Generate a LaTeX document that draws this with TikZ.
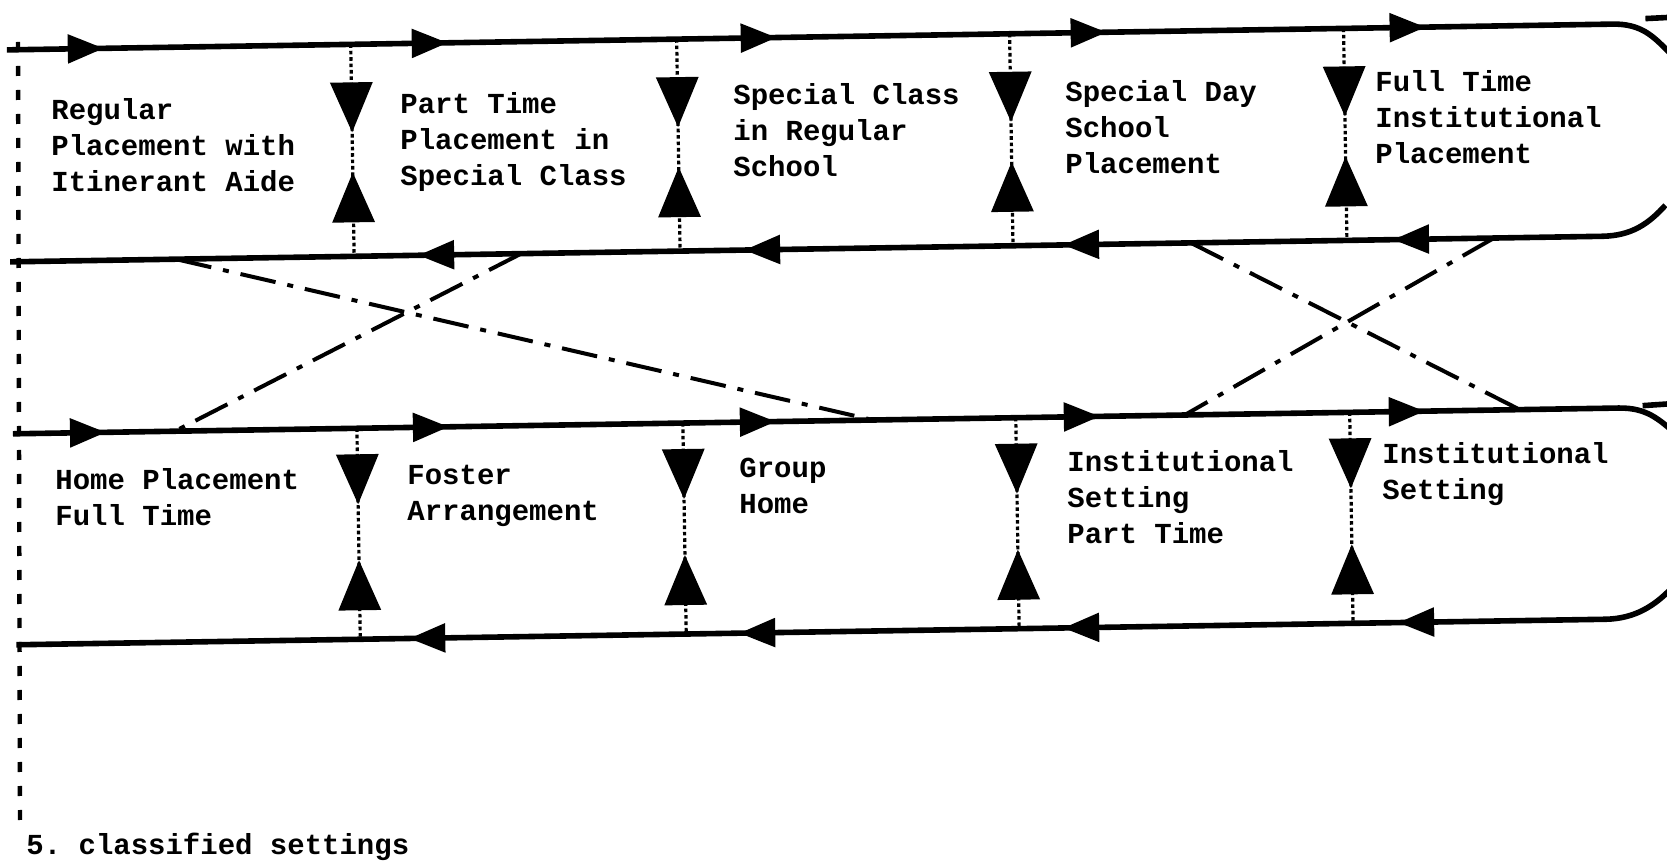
\documentclass[tikz,border=0pt]{standalone}
\usepackage{fontspec}
\setmonofont{Liberation Mono}
\usetikzlibrary{arrows.meta,decorations.markings}
\begin{document}
\begin{tikzpicture}[x=0.5pt,y=-0.5pt,
  htip/.tip={Triangle[length=18pt,width=14pt]},
  vtip/.tip={Triangle[length=25pt,width=21pt]},
  main/.style={line width=2.8pt},
  dd/.style={line width=2pt, dash pattern=on 18pt off 6pt on 3pt off 6pt},
  vline/.style={line width=1.6pt, dash pattern=on 1.8pt off 1.4pt},
  ldash/.style={line width=2.2pt, dash pattern=on 5pt off 7pt},
  fw/.style={postaction={decorate,decoration={markings,mark=at position #1 with {\arrow{htip}}}}},
  bw/.style={postaction={decorate,decoration={markings,mark=at position #1 with {\arrowreversed{htip}}}}},
  vconn/.style 2 args={vline, postaction={decorate,decoration={markings,
      mark=at position #1 with {\arrow{vtip}},
      mark=at position #2 with {\arrowreversed{vtip}}}}},
  txt/.style={anchor=north west, inner sep=0pt, align=left,
      font=\ttfamily\bfseries\fontsize{14.5}{18}\selectfont}
]
\useasboundingbox (0,0) rectangle (1667,866);
\clip (0,0) rectangle (1667,866);
\fill[white] (0,0) rectangle (1667,866);

\begin{scope}[rotate=0.92]
  % main lines
  \coordinate (A0) at (6,50);   \coordinate (A1) at (1612,50);  \coordinate (A2) at (1668,79);
  \coordinate (B0) at (6,262);  \coordinate (B1) at (1598,262); \coordinate (B2) at (1662,232);
  \coordinate (C0) at (6,434);  \coordinate (C1) at (1612,434); \coordinate (C2) at (1668,460);
  \coordinate (D0) at (6,645);  \coordinate (D1) at (1595,645); \coordinate (D2) at (1662,615);
  \coordinate (E0) at (1645,45);  \coordinate (E1) at (1675,44);
  \coordinate (F0) at (1636,432); \coordinate (F1) at (1675,430);

  \draw[main, fw=48.5pt, fw=220.5pt, fw=385pt, fw=550pt, fw=709.5pt]
    (A0) -- (A1) .. controls (1640,50) and (1652,62) .. (A2);
  \draw[main, bw=204pt, bw=367pt, bw=526.5pt, bw=691.5pt]
    (B0) -- (B1) .. controls (1628,262) and (1645,250) .. (B2);
  \draw[main, fw=46.5pt, fw=218pt, fw=381.5pt, fw=543.5pt, fw=706pt]
    (C0) -- (C1) .. controls (1640,434) and (1652,446) .. (C2);
  \draw[main, bw=196.5pt, bw=361.5pt, bw=523.5pt, bw=691pt]
    (D0) -- (D1) .. controls (1625,645) and (1645,632) .. (D2);
  \draw[main] (E0) -- (E1);
  \draw[main] (F0) -- (F1);

  % vertical connectors
  \foreach \i/\x in {1/350,2/676,3/1009,4/1343}{
    \coordinate (a\i) at (\x,50);  \coordinate (b\i) at (\x,262);
    \coordinate (c\i) at (\x,434); \coordinate (d\i) at (\x,645);
    \draw[vconn={44pt}{64pt}] (a\i) -- (b\i);
    \draw[vconn={38pt}{66pt}] (c\i) -- (d\i);
  }

  % dash-dot crossings
  \coordinate (p1) at (172,262);  \coordinate (q1) at (866,434);
  \coordinate (p2) at (517,262);  \coordinate (q2) at (168,434);
  \coordinate (p3) at (1187,262); \coordinate (q3) at (1513,434);
  \coordinate (p4) at (1490,262); \coordinate (q4) at (1178,434);
  \draw[dd] (p1) -- (q1);
  \draw[dd] (p2) -- (q2);
  \draw[dd] (p3) -- (q3);
  \draw[dd] (p4) -- (q4);
\end{scope}

% left dashed border
\coordinate (L0) at (18,42);
\coordinate (L1) at (20,828);
\draw[ldash] (L0) -- (L1);

% texts
\node[txt] (t1) at (51,98)   {Regular\\Placement with\\Itinerant Aide};
\node[txt] (t2) at (400,92)  {Part Time\\Placement in\\Special Class};
\node[txt] (t3) at (733,83)  {Special Class\\in Regular\\School};
\node[txt] (t4) at (1065,80) {Special Day\\School\\Placement};
\node[txt] (t5) at (1375,70) {Full Time\\Institutional\\Placement};
\node[txt] (u1) at (55,468)  {Home Placement\\Full Time};
\node[txt] (u2) at (407,465) {Foster\\Arrangement};
\node[txt] (u3) at (739,458) {Group\\Home};
\node[txt] (u4) at (1067,450) {Institutional\\Setting\\Part Time};
\node[txt] (u5) at (1382,442) {Institutional\\Setting};
\node[txt] (cap) at (26,833) {5. classified settings};
\end{tikzpicture}
\end{document}
